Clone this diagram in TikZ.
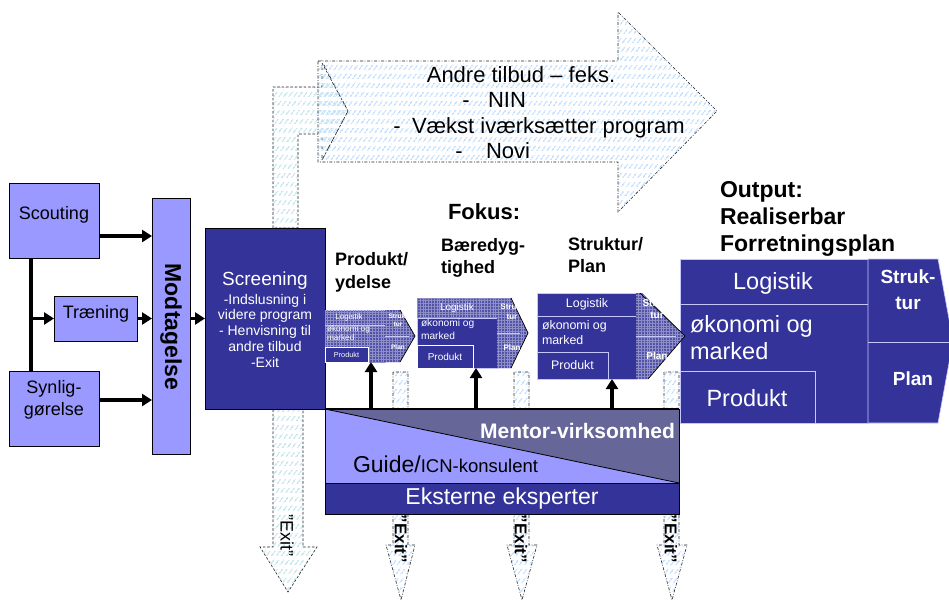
\documentclass[tikz,border=0pt]{standalone}
\usepackage{fontspec}
\setmainfont{Liberation Sans}
\usetikzlibrary{patterns.meta,arrows.meta}
\definecolor{dkblue}{HTML}{333399}
\definecolor{ltpurple}{HTML}{9999FF}
\definecolor{mentorgray}{HTML}{666699}
\definecolor{hatchblue}{HTML}{A6CFFF}
\definecolor{hatchteal}{HTML}{A8D8E2}
\newcommand\fsz[2]{\fontsize{#1}{#2}\selectfont}
\begin{document}
\begin{tikzpicture}[x=1pt,y=-1pt,
  every node/.style={inner sep=0pt, outer sep=0pt},
  lbox/.style={draw=black, line width=0.7pt, fill=ltpurple},
  dbox/.style={draw=black, line width=0.7pt, fill=dkblue},
  arr/.style={line width=3.3pt, -{Triangle[length=10pt,width=12pt]}},
  plainline/.style={line width=3.3pt},
  bhatch/.style={pattern={Lines[angle=55,distance=4pt,line width=1.1pt]}, pattern color=hatchblue},
  thatch/.style={pattern={Lines[angle=55,distance=4pt,line width=1.1pt]}, pattern color=hatchteal},
  rowcut/.style={pattern={Lines[angle=0,distance=9pt,line width=3.6pt]}, pattern color=white},
  ddot/.style={draw=black!85, line width=0.6pt, dash pattern=on 3pt off 1.6pt on 0.8pt off 1.6pt},
  dsh/.style={draw=black!85, line width=0.6pt, dash pattern=on 2.6pt off 1.8pt},
  shatch/.style={fill=dkblue!85, postaction={pattern={Hatch[angle=0,distance=2.8pt,line width=0.45pt]}, pattern color=white!45!dkblue}},
  sline/.style={draw=ltpurple!55!white, line width=0.6pt},
  diag/.style={draw=black, line width=0.7pt},
  wt/.style={text=white},
  bt/.style={text=black},
]
\useasboundingbox (0,0) rectangle (949,603);
\clip (0,0) rectangle (949,603);

% ---- bent exit arrow from screening into the big arrow
\path[thatch, postaction={rowcut}, postaction={dsh}]
  (273,228) -- (273,87) -- (322,87) -- (322,61) -- (348,111) -- (322,160)
  -- (322,134) -- (298,134) -- (298,228) -- cycle;
% ---- big arrow "Andre tilbud"
\path[bhatch, postaction={rowcut}, postaction={ddot}]
  (318,61) -- (618,61) -- (618,12) -- (717,111) -- (618,212) -- (618,162)
  -- (318,162) -- cycle;
\draw[dsh] (322,63) -- (348,111) -- (322,160);

% ---- exit arrows
\path[thatch, postaction={rowcut}, postaction={dsh}]
  (273,405) -- (273,547) -- (260,547) -- (288,592) -- (317,547) -- (303,547) -- (303,405) -- cycle;
\path[bhatch, postaction={rowcut}, postaction={ddot}]
  (393,372) -- (393,545) -- (386,545) -- (401,600) -- (415,545) -- (408,545) -- (408,372) -- cycle;
\path[bhatch, postaction={rowcut}, postaction={ddot}]
  (514,372) -- (514,545) -- (507,545) -- (522,600) -- (537,545) -- (529,545) -- (529,372) -- cycle;
\path[bhatch, postaction={rowcut}, postaction={ddot}]
  (664,372) -- (664,545) -- (657,545) -- (672,600) -- (687,545) -- (679,545) -- (679,372) -- cycle;

% ---- big arrow text
\node[anchor=base, font=\fsz{22}{22}] (andre) at (521,82) {Andre tilbud – feks.};
\node[anchor=base, font=\fsz{22}{22}] (d1) at (466,107) {-};
\node[anchor=base west, font=\fsz{22}{22}] (nin) at (488,107) {NIN};
\node[anchor=base, font=\fsz{22}{22}] (d2) at (397,133) {-};
\node[anchor=base west, font=\fsz{22}{22}] (vaekst) at (412,133) {Vækst iværksætter program};
\node[anchor=base, font=\fsz{22}{22}] (d3) at (459,158) {-};
\node[anchor=base west, font=\fsz{22}{22}] (novi) at (486,158) {Novi};

% ---- left column
\node[lbox, minimum width=90, minimum height=75] (scout) at (54,220.5) {};
\node[font=\fsz{18}{22}] (scouttxt) at (54,215) {Scouting};
\node[lbox, minimum width=83, minimum height=45] (traen) at (95.5,318.5) {};
\node[font=\fsz{18}{22}] (traentxt) at (96,314) {Træning};
\node[lbox, minimum width=90, minimum height=75] (synlig) at (54,408.5) {};
\node[font=\fsz{18}{22}, align=center] (synligtxt) at (54,400) {Synlig-\\gørelse};
\node[lbox, minimum width=38, minimum height=256] (modt) at (171,326) {};
\node[rotate=-90, font=\bfseries\fsz{23}{23}] (modttxt) at (171,327) {Modtagelse};

\node[dbox, minimum width=120, minimum height=181] (screen) at (265,318.5) {};
\node[wt, font=\fsz{19}{22}] (screentitle) at (265,281) {Screening};
\node[wt, anchor=north, align=center, font=\fsz{14}{15.8}] (screenbody) at (265,294)
  {-Indslusning i\\videre program\\- Henvisning til\\andre tilbud\\-Exit};

% left connectors
\path ([xshift=-23pt]scout.south) coordinate (vtop);
\draw[plainline] (vtop) -- (vtop |- synlig.north);
\draw[arr] (vtop |- traen.west) -- (traen.west);
\draw[arr] ([yshift=-15.5pt]scout.east) coordinate (a1) -- (a1 -| modt.west);
\draw[arr] (traen.east) -- (traen.east -| modt.west);
\draw[arr] ([yshift=8.5pt]synlig.east) coordinate (a3) -- (a3 -| modt.west);
\draw[arr] (screen.west -| modt.east) -- (screen.west);

% ---- headings
\node[anchor=north west, font=\bfseries\fsz{22}{22}] (fokus) at (448,204) {Fokus:};
\node[anchor=north west, align=left, font=\bfseries\fsz{18}{23}] (h1) at (335,252) {Produkt/\\ydelse};
\node[anchor=north west, align=left, font=\bfseries\fsz{18}{22}] (h2) at (441,238) {Bæredyg-\\tighed};
\node[anchor=north west, align=left, font=\bfseries\fsz{18}{22}] (h3) at (568,237) {Struktur/\\Plan};
\node[anchor=north west, align=left, font=\bfseries\fsz{23}{27}] (hout) at (720,181) {Output:\\Realiserbar\\Forretningsplan};

% ---- stage 1
\node[shatch, sline, minimum width=60, minimum height=52] (s1) at (355,336) {};
\draw[sline] (325,325) -- (385,325);
\node[wt, font=\fsz{8}{8}] (s1log) at (349,317) {Logistik};
\node[wt, anchor=north west, align=left, font=\fsz{8.2}{9.5}] (s1oek) at (327,325.5) {økonomi og\\marked};
\node[fill=dkblue, draw=white, line width=0.6pt, minimum width=43, minimum height=15, wt, font=\fsz{7.3}{7.3}] (p1) at (346.5,354.5) {Produkt};
\path[shatch] (385,310) -- (400,310) -- (415,336) -- (400,362) -- (385,362) -- cycle;
\draw[diag] (400,310) -- (415,336) -- (400,362);
\draw[sline] (385,336) -- (409,336);
\node[wt, align=center, font=\bfseries\fsz{6.5}{8}] (c1a) at (398,320) {Struk-\\tur};
\node[wt, font=\bfseries\fsz{6.5}{8}] (c1b) at (398,347) {Plan};

% ---- stage 2
\node[fill=dkblue, sline, minimum width=80, minimum height=70] (s2) at (457,333) {};
\path[shatch] (417,298) rectangle (497,318);
\draw[sline] (417,318) -- (497,318);
\node[wt, font=\fsz{10}{10}] (s2log) at (457,307.5) {Logistik};
\node[wt, anchor=north west, align=left, font=\fsz{10.2}{12.5}] (s2oek) at (421,319.5) {økonomi og\\marked};
\node[fill=dkblue, draw=white, line width=0.6pt, minimum width=56, minimum height=23, wt, font=\fsz{10}{10}] (p2) at (445,356.5) {Produkt};
\path[shatch] (497,298) -- (511,298) -- (528,333) -- (511,368) -- (497,368) -- cycle;
\draw[diag] (511,298) -- (528,333) -- (511,368);
\draw[sline] (497,333) -- (520,333);
\node[wt, align=center, font=\bfseries\fsz{8}{10}] (c2a) at (512,312) {Struk-\\tur};
\node[wt, font=\bfseries\fsz{8}{8}] (c2b) at (512,348) {Plan};

% ---- output block
\node[fill=dkblue, sline, minimum width=188, minimum height=164] (out) at (774,341) {};
\draw[sline] (680,304) -- (868,304);
\node[sline, minimum width=135, minimum height=52] (pout) at (747.5,397) {};
\path[fill=dkblue, sline] (868,259) -- (938,259) -- (953,341) -- (938,423) -- (868,423) -- cycle;
\draw[sline] (868,342) -- (950,342);
\node[wt, font=\fsz{23.5}{23.5}] (olog) at (773,283) {Logistik};
\node[wt, anchor=north west, align=left, font=\fsz{23.5}{27}] (ooek) at (690,315) {økonomi og\\marked};
\node[wt, font=\fsz{23.5}{23.5}] (oprod) at (747,398) {Produkt};
\node[wt, align=center, font=\bfseries\fsz{19}{26}] (ostruk) at (908,290) {Struk-\\tur};
\node[wt, font=\bfseries\fsz{19}{19}] (oplan) at (913,379) {Plan};

% ---- stage 3
\node[fill=dkblue, sline, minimum width=99, minimum height=86] (s3) at (586.5,336) {};
\draw[sline] (537,316) -- (636,316);
\node[wt, font=\fsz{12.4}{12.4}] (s3log) at (587,304.5) {Logistik};
\node[wt, anchor=north west, align=left, font=\fsz{12.4}{14.5}] (s3oek) at (542,321) {økonomi og\\marked};
\node[fill=dkblue, sline, minimum width=71, minimum height=27, wt, font=\fsz{12.4}{12.4}] (p3) at (572.5,365.5) {Produkt};
\path[shatch] (636,293) -- (642,293) -- (685,336) -- (648,379) -- (636,379) -- cycle;
\draw[diag] (640,293) -- (685,336) -- (648,379);
\draw[sline] (636,336) -- (676,336);
\node[wt, align=center, font=\bfseries\fsz{10}{12}] (c3a) at (657,309) {Struk-\\tur};
\node[wt, font=\bfseries\fsz{10}{10}] (c3b) at (657,356) {Plan};

% ---- mentor box
\node[minimum width=354, minimum height=105] (mentor) at (502,461.5) {};
\fill[ltpurple] (mentor.north west) rectangle ([yshift=31pt]mentor.south east);
\fill[mentorgray] (mentor.north west) -- (mentor.north east) -- ([yshift=31pt]mentor.south east) -- cycle;
\draw[line width=0.8pt] (mentor.north west) -- ([yshift=31pt]mentor.south east);
\node[fill=dkblue, minimum width=354, minimum height=31, wt, font=\fsz{23}{23}] (ext) at (502,498.5) {Eksterne eksperter};
\draw[line width=0.8pt] (ext.north west) -- (ext.north east);
\draw[line width=0.8pt] (mentor.north west) rectangle (mentor.south east);
\draw[line width=1.2pt] (screen.south east) -- (mentor.north east);
\node[anchor=east, wt, font=\bfseries\fsz{21}{21}] (mtxt) at (675,431) {Mentor-virksomhed};
\node[anchor=base west] (gtxt) at (353,472) {\fsz{23}{23}Guide/\fsz{18.5}{18.5}ICN-konsulent};

% ---- up arrows
\path ([xshift=16pt]s1.south) coordinate (u1);
\path ([xshift=19pt]s2.south) coordinate (u2);
\path ([xshift=25.5pt]s3.south) coordinate (u3);
\draw[arr] (u1 |- mentor.north) -- (u1);
\draw[arr] (u2 |- mentor.north) -- (u2);
\draw[arr] (u3 |- mentor.north) -- (u3);

% ---- exit labels
\node[rotate=-90, font=\fsz{18}{18}] (e1) at (287,535) {”Exit”};
\node[rotate=-90, font=\bfseries\fsz{17}{17}] (e2) at (401,539) {”Exit”};
\node[rotate=-90, font=\bfseries\fsz{17}{17}] (e3) at (521,539) {”Exit”};
\node[rotate=-90, font=\bfseries\fsz{17}{17}] (e4) at (671,539) {”Exit”};
\end{tikzpicture}
\end{document}
